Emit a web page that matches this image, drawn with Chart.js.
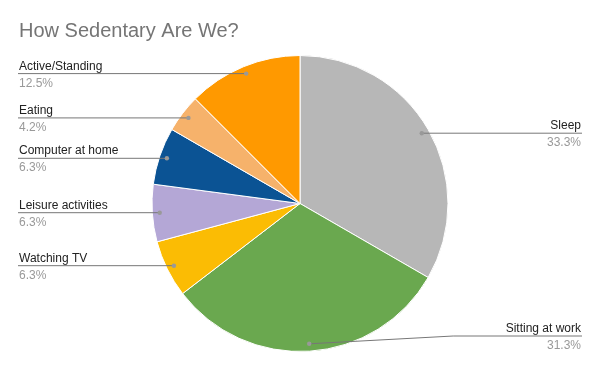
<!DOCTYPE html>
<html>
<head>
<meta charset="utf-8">
<script src="https://cdn.jsdelivr.net/npm/chart.js@4"></script>
<style>
  html, body { margin: 0; padding: 0; background: #fff; }
  #wrap { width: 600px; height: 371px; position: relative; }
</style>
</head>
<body>
<div id="wrap"><canvas id="pieChart"></canvas></div>
<script>
// hours per day
const categories = ['Sleep', 'Sitting at work', 'Watching TV', 'Leisure activities', 'Computer at home', 'Eating', 'Active/Standing'];
const hours = [8, 7.5, 1.5, 1.5, 1.5, 1, 3];
const sliceColors = ['#b7b7b7', '#6aa84f', '#fbbc04', '#b4a7d6', '#0b5394', '#f6b26b', '#ff9900'];
const chartTitle = 'How Sedentary Are We?';

const FONT = 'Arial, "Liberation Sans", sans-serif';

// draws title plus the google-style callout labels
const calloutPlugin = {
  id: 'callouts',
  afterDraw(chart) {
    const ctx = chart.ctx;
    const meta = chart.getDatasetMeta(0);
    const total = hours.reduce((a, b) => a + b, 0);

    ctx.save();
    ctx.font = '20px ' + FONT;
    ctx.fillStyle = '#757575';
    ctx.textAlign = 'left';
    ctx.textBaseline = 'alphabetic';
    ctx.fillText(chartTitle, 19, 37);

    meta.data.forEach((arc, i) => {
      const mid = (arc.startAngle + arc.endAngle) / 2;
      const r = arc.outerRadius * 0.95;
      const dx = arc.x + Math.cos(mid) * r;
      const dy = arc.y + Math.sin(mid) * r;
      const right = Math.cos(mid) > 0;
      const lineY = Math.min(dy, 336);
      const pct = (Math.round(hours[i] / total * 1000) / 10).toFixed(1) + '%';

      ctx.strokeStyle = '#777';
      ctx.lineWidth = 1;
      ctx.beginPath();
      ctx.moveTo(dx, dy);
      if (lineY !== dy) {
        const ex = right ? dx + 144 : dx - 144;
        ctx.lineTo(ex, lineY);
      }
      ctx.lineTo(right ? 582 : 18, lineY);
      ctx.stroke();

      ctx.fillStyle = '#999';
      ctx.beginPath();
      ctx.arc(dx, dy, 2.2, 0, Math.PI * 2);
      ctx.fill();

      ctx.textAlign = right ? 'right' : 'left';
      const tx = right ? 581 : 19;
      ctx.font = '12px ' + FONT;
      ctx.fillStyle = '#222';
      ctx.fillText(categories[i], tx, lineY - 4);
      ctx.fillStyle = '#999';
      ctx.fillText(pct, tx, lineY + 13);
    });
    ctx.restore();
  }
};

new Chart(document.getElementById('pieChart'), {
  type: 'pie',
  data: {
    labels: categories,
    datasets: [{
      data: hours,
      backgroundColor: sliceColors,
      borderColor: '#ffffff',
      borderWidth: 1
    }]
  },
  options: {
    responsive: true,
    maintainAspectRatio: false,
    animation: false,
    layout: { padding: { top: 55, bottom: 19, left: 0, right: 0 } },
    plugins: {
      legend: { display: false },
      title: { display: false },
      tooltip: { enabled: false }
    }
  },
  plugins: [calloutPlugin]
});
</script>
</body>
</html>
